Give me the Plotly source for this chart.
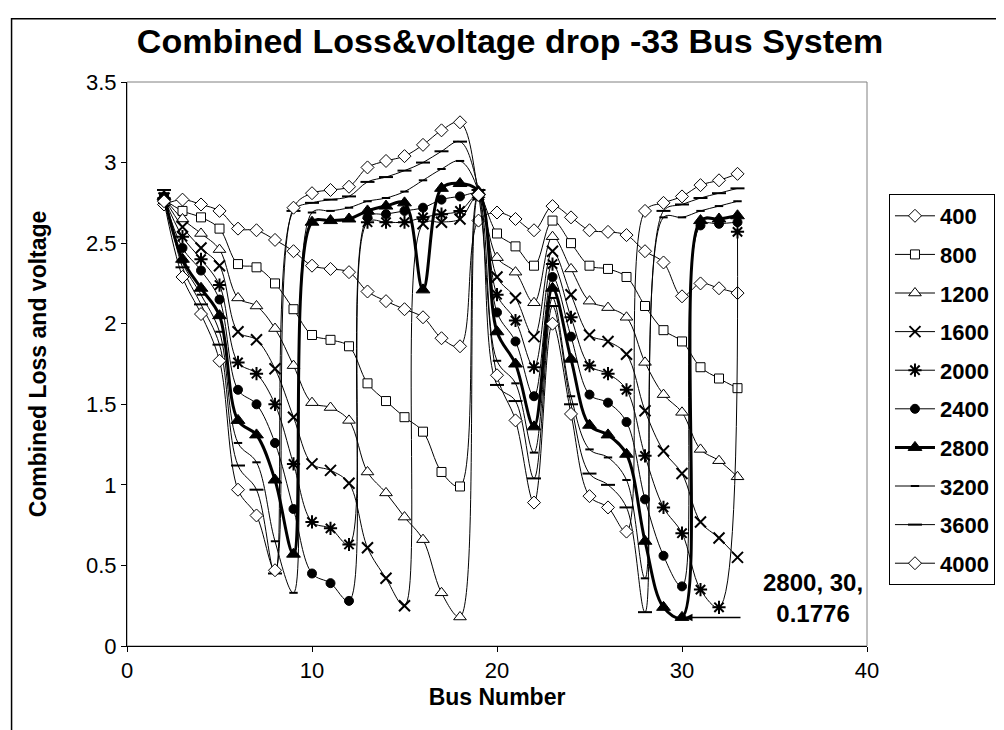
import plotly.graph_objects as go

# bus numbers 2..33
buses = list(range(2, 34))

s400 = [2.74, 2.77, 2.74, 2.70, 2.59, 2.58, 2.52, 2.45, 2.36, 2.34, 2.32, 2.20, 2.14, 2.09, 2.04, 1.91,
        1.86, 2.64, 2.69, 2.65, 2.58, 2.73, 2.66, 2.58, 2.57, 2.55, 2.45, 2.38, 2.17, 2.25, 2.22, 2.19]
s800 = [2.77, 2.70, 2.66, 2.59, 2.37, 2.35, 2.25, 2.09, 1.93, 1.90, 1.86, 1.63, 1.52, 1.42, 1.33, 1.08,
        0.99, 2.80, 2.56, 2.48, 2.36, 2.64, 2.50, 2.36, 2.34, 2.29, 2.11, 1.96, 1.89, 1.73, 1.66, 1.60]
s1200 = [2.78, 2.65, 2.56, 2.46, 2.16, 2.11, 1.97, 1.74, 1.51, 1.48, 1.40, 1.08, 0.95, 0.80, 0.66, 0.33,
         0.18, 2.80, 2.41, 2.32, 2.13, 2.54, 2.34, 2.14, 2.10, 2.04, 1.76, 1.56, 1.45, 1.22, 1.15, 1.05]
s1600 = [2.78, 2.60, 2.47, 2.36, 1.95, 1.90, 1.72, 1.42, 1.13, 1.09, 1.01, 0.61, 0.42, 0.25, 2.62, 2.63,
         2.65, 2.80, 2.29, 2.16, 1.92, 2.45, 2.18, 1.93, 1.89, 1.81, 1.46, 1.21, 1.07, 0.77, 0.67, 0.55]
s2000 = [2.78, 2.54, 2.40, 2.24, 1.76, 1.69, 1.50, 1.13, 0.77, 0.73, 0.63, 2.63, 2.63, 2.63, 2.66, 2.68,
         2.70, 2.80, 2.18, 2.02, 1.73, 2.37, 2.04, 1.74, 1.69, 1.59, 1.18, 0.86, 0.70, 0.35, 0.24, 2.57]
s2400 = [2.78, 2.47, 2.33, 2.15, 1.59, 1.50, 1.26, 0.85, 0.45, 0.39, 0.28, 2.66, 2.68, 2.70, 2.72, 2.77,
         2.79, 2.80, 2.07, 1.89, 1.55, 2.29, 1.92, 1.56, 1.51, 1.39, 0.91, 0.56, 0.37, 2.61, 2.62, 2.63]
s2800 = [2.79, 2.40, 2.22, 2.05, 1.40, 1.31, 1.03, 0.57, 2.63, 2.64, 2.65, 2.70, 2.73, 2.75, 2.21, 2.84,
         2.87, 2.82, 1.95, 1.75, 1.36, 2.22, 1.78, 1.37, 1.31, 1.19, 0.65, 0.24, 0.1776, 2.64, 2.65, 2.67]
s3200 = [2.81, 2.38, 2.18, 1.95, 1.26, 1.14, 0.65, 0.33, 2.69, 2.70, 2.72, 2.76, 2.78, 2.82, 2.89, 2.96,
         3.01, 2.82, 1.77, 1.63, 1.20, 2.16, 1.55, 1.22, 1.17, 1.03, 0.42, 2.66, 2.66, 2.70, 2.73, 2.76]
s3600 = [2.83, 2.35, 2.12, 1.87, 1.12, 0.97, 0.45, 2.70, 2.75, 2.77, 2.79, 2.88, 2.91, 2.95, 3.00, 3.07,
         3.13, 2.83, 1.62, 1.52, 1.04, 2.11, 1.50, 1.07, 1.00, 0.86, 0.21, 2.70, 2.74, 2.78, 2.81, 2.84]
s4000 = [2.76, 2.29, 2.06, 1.77, 0.97, 0.81, 0.47, 2.72, 2.81, 2.83, 2.85, 2.97, 3.01, 3.04, 3.11, 3.20,
         3.25, 2.80, 1.68, 1.40, 0.89, 2.00, 1.44, 0.93, 0.86, 0.71, 2.70, 2.75, 2.79, 2.86, 2.89, 2.93]

names = ["400", "800", "1200", "1600", "2000", "2400", "2800", "3200", "3600", "4000"]
values = [s400, s800, s1200, s1600, s2000, s2400, s2800, s3200, s3600, s4000]

# marker style per series
styles = {
    "400": dict(symbol="diamond", size=10, color="white", lw=1),
    "800": dict(symbol="square", size=9, color="white", lw=1),
    "1200": dict(symbol="triangle-up", size=11, color="white", lw=1),
    "1600": dict(symbol="x-thin-open", size=11, color="black", lw=1),
    "2000": dict(symbol="asterisk-open", size=11, color="black", lw=1),
    "2400": dict(symbol="circle", size=9, color="black", lw=1),
    "2800": dict(symbol="triangle-up", size=12, color="black", lw=3),
    "3200": dict(symbol="line-ew-open", size=6, color="black", lw=1),
    "3600": dict(symbol="line-ew-open", size=10, color="black", lw=1),
    "4000": dict(symbol="diamond", size=10, color="white", lw=1),
}

fig = go.Figure()

for name, vals in zip(names, values):
    st = styles[name]
    open_sym = st["symbol"].startswith(("x", "asterisk", "line"))
    fig.add_trace(go.Scatter(
        x=buses, y=vals, name=f"<b>{name}</b>", legendgroup=name,
        mode="lines+markers",
        line=dict(color="black", width=st["lw"], shape="spline", smoothing=1),
        marker=dict(symbol=st["symbol"], size=st["size"], color=st["color"],
                    line=dict(color="black", width=2 if open_sym else 1)),
    ))

# arrow to the minimum point of the 2800 series
fig.add_annotation(x=30, y=0.1776, ax=60, ay=0, text="", showarrow=True,
                   arrowhead=2, arrowsize=1, arrowwidth=1.5, arrowcolor="black", standoff=3)
fig.add_annotation(x=0.997, y=0.085, xref="paper", yref="paper", xanchor="right", yanchor="middle",
                   text="<b>2800, 30,<br>0.1776</b>", showarrow=False, align="center",
                   font=dict(family="Liberation Sans, Arial", size=24, color="black"))

# plot area border and outer chart border
fig.add_shape(type="rect", xref="paper", yref="paper", x0=0, y0=0, x1=1, y1=1,
              line=dict(color="#808080", width=1), layer="below")
fig.add_shape(type="rect", xref="paper", yref="paper", x0=-0.156, y0=-0.3, x1=1.3, y1=1.112,
              line=dict(color="black", width=1.5), layer="below")

fig.update_layout(
    width=1004, height=730,
    margin=dict(l=119, r=145, t=74, b=92, autoexpand=False),
    paper_bgcolor="white", plot_bgcolor="white",
    font=dict(family="Liberation Sans, Arial", color="black"),
    title=dict(text="<b>Combined Loss&voltage drop -33 Bus System</b>", x=0.5, xanchor="center",
               y=0.955, yanchor="middle", font=dict(size=34)),
    xaxis=dict(range=[0, 40], dtick=10, showline=True, linecolor="black", linewidth=1,
               ticks="outside", ticklen=5, tickcolor="black", showgrid=False, zeroline=False,
               tickfont=dict(size=22),
               title=dict(text="<b>Bus Number</b>", font=dict(size=23), standoff=6)),
    yaxis=dict(range=[0, 3.5], dtick=0.5, showline=True, linecolor="black", linewidth=1,
               ticks="outside", ticklen=5, tickcolor="black", showgrid=False, zeroline=False,
               tickfont=dict(size=22),
               title=dict(text="<b>Combined Loss and voltage</b>", font=dict(size=23), standoff=32)),
    legend=dict(x=1.0297, y=0.8014, xanchor="left", yanchor="top", bordercolor="black", borderwidth=1,
                font=dict(size=22), itemwidth=40, tracegroupgap=7, traceorder="grouped",
                bgcolor="white"),
)

fig.write_html("out.html")
